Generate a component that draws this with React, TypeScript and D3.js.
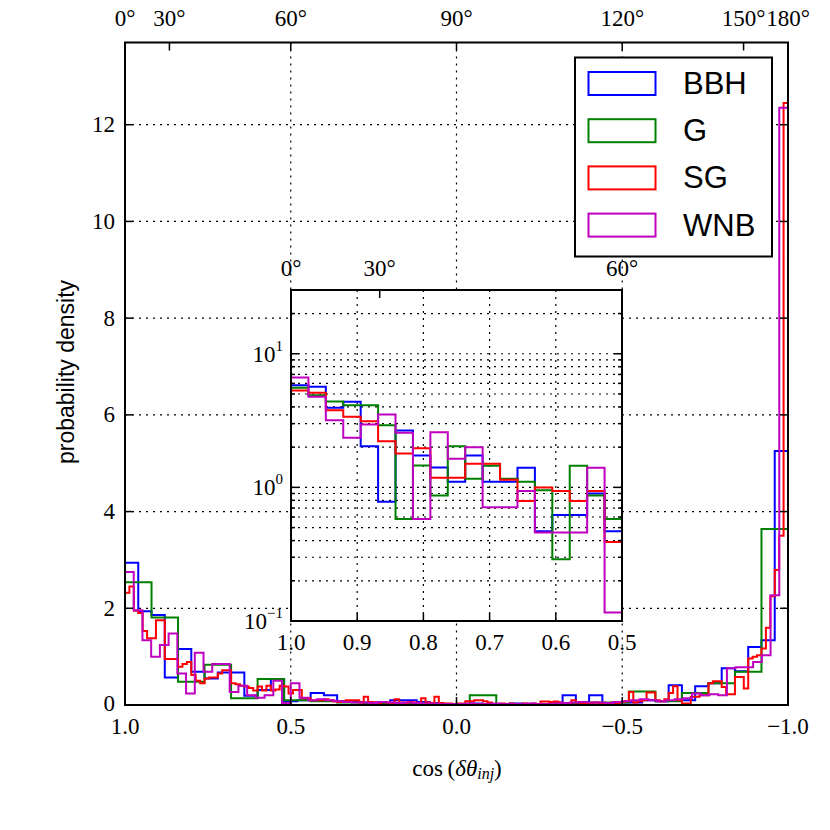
import React from "react";
import * as d3 from "d3";

// ---------- data ----------
const SERIES_NAMES = ["BBH", "G", "SG", "WNB"];
const SERIES_COLORS = ["#0000ff", "#008000", "#ff0000", "#bf00bf"];

// main histograms: density per bin, bins ordered from cos=1 down to cos=-1
const BBH_MAIN = [2.94, 1.94, 1.86, 0.57, 1.16, 0.69, 0.55, 0.67, 0.67, 0.19, 0.31, 0.53, 0.08, 0.1, 0.25, 0.2, 0.08, 0.06, 0.05, 0.04, 0.1, 0.1, 0.06, 0.04, 0.02, 0.02, 0.03, 0.02, 0.02, 0.03, 0.02, 0.02, 0.05, 0.2, 0.03, 0.2, 0.03, 0.05, 0.05, 0.1, 0.08, 0.41, 0.1, 0.39, 0.45, 0.76, 0.7, 1.2, 1.34, 5.25];
const G_MAIN = [2.54, 1.81, 0.48, 0.83, 0.14, 0.54, 0.1, 0.08, 0.05, 0.03, 0.04, 0.03, 0.02, 0.2, 0.02, 0.02, 0.03, 0.05, 0.05, 0.28, 0.08, 0.25, 0.45, 0.69, 3.64];
const SG_MAIN = [
  2.32, 2.45, 1.95, 1.9, 1.53, 1.38, 1.38, 1.75, 1.75, 0.95, 0.95, 0.95, 0.79, 0.85, 0.89, 0.62, 0.5, 0.45, 0.55, 0.57, 0.57, 0.65, 0.72, 0.72, 0.45, 0.43, 0.4, 0.38, 0.35, 0.3, 0.38, 0.3, 0.4, 0.3, 0.32, 0.4, 0.38, 0.24,
  0.31, 0.31, 0.14, 0.14, 0.1, 0.1, 0.1, 0.12, 0.1, 0.08, 0.06, 0.08, 0.1, 0.1, 0.1, 0.05, 0.17, 0.06, 0.05, 0.04, 0.06, 0.05, 0.04, 0.12, 0.05, 0.04, 0.06, 0.05, 0.04, 0.14, 0.05, 0.04, 0.17, 0.04, 0.03, 0.03, 0.02, 0.03,
  0.03, 0.08, 0.08, 0.1, 0.1, 0.08, 0.05, 0.02, 0.02, 0.03, 0.02, 0.03, 0.02, 0.02, 0.03, 0.02, 0.03, 0.02, 0.07, 0.07, 0.06, 0.07, 0.05, 0.04, 0.03, 0.1, 0.05, 0.04, 0.03, 0.03, 0.05, 0.03, 0.04, 0.02, 0.05, 0.03, 0.06, 0.08,
  0.27, 0.05, 0.08, 0.1, 0.26, 0.26, 0.1, 0.08, 0.12, 0.25, 0.39, 0.1, 0.03, 0.03, 0.17, 0.17, 0.2, 0.2, 0.45, 0.49, 0.49, 0.37, 0.22, 0.22, 0.58, 0.58, 0.34, 0.96, 1.0, 1.03, 1.17, 1.6, 2.25, 2.79, 3.5, 12.45,
];
const WNB_MAIN = [
  2.75, 1.96, 1.34, 1.0, 1.24, 1.48, 0.65, 0.24, 1.08, 0.69, 0.85, 0.85, 0.27, 0.4, 0.2, 0.15, 0.2, 0.5, 0.04, 0.45, 0.15,
  0.1, 0.12, 0.1, 0.08, 0.06, 0.05, 0.05, 0.04, 0.06, 0.05, 0.04, 0.05, 0.04, 0.03, 0.03, 0.02, 0.02, 0.02, 0.03, 0.02, 0.02, 0.03, 0.02, 0.02, 0.02, 0.03, 0.02, 0.02, 0.03, 0.04, 0.05, 0.06, 0.05, 0.05, 0.04, 0.06,
  0.08, 0.1, 0.12, 0.1, 0.08, 0.1, 0.12, 0.14, 0.24, 0.2, 0.22, 0.2, 0.76, 0.78, 0.78, 0.89, 1.03, 2.27, 12.35,
];

// inset histograms: 19 bins from cos=1.0 to cos=0.5
const BBH_INSET = [5.82, 5.66, 3.94, 4.37, 2.03, 0.78, 2.66, 1.73, 1.41, 1.1, 1.73, 1.1, 1.1, 1.4, 0.47, 0.62, 0.62, 0.9, 0.47];
const G_INSET = [5.57, 4.9, 4.4, 4.12, 4.12, 2.92, 0.58, 1.46, 0.87, 2.03, 1.16, 1.45, 1.16, 1.1, 0.95, 0.29, 1.45, 0.87, 0.58];
const SG_INSET = [5.31, 5.1, 3.78, 3.37, 3.13, 2.21, 1.79, 1.96, 1.18, 1.18, 1.5, 1.5, 1.14, 0.79, 1.0, 0.94, 0.79, 0.94, 0.39];
const WNB_INSET = [6.63, 4.77, 3.18, 2.35, 2.95, 3.51, 2.56, 0.58, 2.59, 1.64, 2.0, 0.71, 0.71, 0.94, 0.46, 0.46, 0.46, 1.4, 0.116];

const MAIN_RANGE = [1, -1];
const INSET_RANGE = [1, 0.5];
const MAIN_Y_MAX = 13.7;
const INSET_Y_DOMAIN = [0.1, 30];

const MAIN_X_TICKS = [1, 0.5, 0, -0.5, -1];
const MAIN_Y_TICKS = [0, 2, 4, 6, 8, 10, 12];
const MAIN_ANGLE_TICKS = [0, 30, 60, 90, 120, 150, 180];
const INSET_X_TICKS = [1, 0.9, 0.8, 0.7, 0.6, 0.5];
const INSET_ANGLE_TICKS = [0, 30, 60];
const INSET_MAJOR_Y = [0.1, 1, 10];
const INSET_EXP = ["\u22121", "0", "1"];

// ---------- layout ----------
const M = { left: 125, right: 788, top: 42.5, bottom: 705 };
const I = { left: 291, right: 622, top: 290, bottom: 621 };
const SERIF = "'Liberation Serif', 'DejaVu Serif', serif";
const SANS = "'Liberation Sans', Arial, sans-serif";
const fmtNum = (v: number) => (v < 0 ? "\u2212" : "") + Math.abs(v).toFixed(1);

function stepPath(values: number[], range: number[], x: (v: number) => number, y: (v: number) => number, base: number) {
  const n = values.length;
  const edges = d3.range(n + 1).map((i) => range[0] + ((range[1] - range[0]) * i) / n);
  const pts: [number, number][] = [[x(edges[0]), base]];
  values.forEach((v, i) => {
    pts.push([x(edges[i]), y(v)]);
    pts.push([x(edges[i + 1]), y(v)]);
  });
  pts.push([x(edges[n]), base]);
  return d3.line()(pts) as string;
}

export default function App() {
  const xM = d3.scaleLinear().domain(MAIN_RANGE).range([M.left, M.right]);
  const yM = d3.scaleLinear().domain([0, MAIN_Y_MAX]).range([M.bottom, M.top]);
  const xI = d3.scaleLinear().domain(INSET_RANGE).range([I.left, I.right]);
  const yI = d3.scaleLog().domain(INSET_Y_DOMAIN).range([I.bottom, I.top]);

  const mainSeries = [BBH_MAIN, G_MAIN, SG_MAIN, WNB_MAIN];
  const insetSeries = [BBH_INSET, G_INSET, SG_INSET, WNB_INSET];

  const insetMinor: number[] = [];
  [0.1, 1, 10].forEach((dec) => {
    for (let k = 1; k <= 9; k++) {
      const v = dec * k;
      if (v >= INSET_Y_DOMAIN[0] - 1e-9 && v <= INSET_Y_DOMAIN[1] + 1e-9) insetMinor.push(v);
    }
  });

  const dash = "2,5";
  const cosDeg = (d: number) => Math.cos((d * Math.PI) / 180);

  return (
    <svg width={830} height={830} style={{ position: "absolute", left: 0, top: 0, background: "#fff" }}>
      <defs>
        <clipPath id="mainClip">
          <rect x={M.left} y={M.top} width={M.right - M.left} height={M.bottom - M.top} />
        </clipPath>
        <clipPath id="insetClip">
          <rect x={I.left} y={I.top} width={I.right - I.left} height={I.bottom - I.top} />
        </clipPath>
      </defs>
      <rect x={0} y={0} width={830} height={830} fill="#fff" />

      {/* main grid */}
      {MAIN_Y_TICKS.slice(1).map((t) => (
        <line key={"gy" + t} x1={M.left} x2={M.right} y1={yM(t)} y2={yM(t)} stroke="#000" strokeWidth={1.2} strokeDasharray={dash} />
      ))}
      {MAIN_X_TICKS.slice(1, -1).map((t) => (
        <line key={"gx" + t} x1={xM(t)} x2={xM(t)} y1={M.top} y2={M.bottom} stroke="#000" strokeWidth={1.2} strokeDasharray={dash} />
      ))}

      {/* main histograms */}
      <g clipPath="url(#mainClip)">
        {mainSeries.map((vals, k) => (
          <path key={"m" + k} d={stepPath(vals, MAIN_RANGE, xM, yM, yM(0))} fill="none" stroke={SERIES_COLORS[k]} strokeWidth={2} strokeLinejoin="miter" />
        ))}
      </g>

      {/* main ticks */}
      {MAIN_Y_TICKS.map((t) => (
        <g key={"ty" + t}>
          <line x1={M.left} x2={M.left + 8} y1={yM(t)} y2={yM(t)} stroke="#000" strokeWidth={1.5} />
          <line x1={M.right} x2={M.right - 8} y1={yM(t)} y2={yM(t)} stroke="#000" strokeWidth={1.5} />
          <text x={M.left - 10} y={yM(t) - (t === 0 ? 2 : 0)} textAnchor="end" dominantBaseline="central" fontFamily={SERIF} fontSize={23}>{t}</text>
        </g>
      ))}
      {MAIN_X_TICKS.map((t) => (
        <g key={"tx" + t}>
          <line x1={xM(t)} x2={xM(t)} y1={M.bottom} y2={M.bottom - 8} stroke="#000" strokeWidth={1.5} />
          <text x={xM(t)} y={M.bottom + 21} textAnchor="middle" dominantBaseline="central" fontFamily={SERIF} fontSize={23}>{fmtNum(t)}</text>
        </g>
      ))}
      {MAIN_ANGLE_TICKS.map((d) => (
        <g key={"ta" + d}>
          <line x1={xM(cosDeg(d))} x2={xM(cosDeg(d))} y1={M.top} y2={M.top + 8} stroke="#000" strokeWidth={1.5} />
          <text x={xM(cosDeg(d))} y={M.top - 24} textAnchor="middle" dominantBaseline="central" fontFamily={SERIF} fontSize={23}>{d + "\u00b0"}</text>
        </g>
      ))}
      <rect x={M.left} y={M.top} width={M.right - M.left} height={M.bottom - M.top} fill="none" stroke="#000" strokeWidth={2} />

      {/* inset */}
      <rect x={I.left} y={I.top} width={I.right - I.left} height={I.bottom - I.top} fill="#fff" />
      {insetMinor.map((v) => (
        <line key={"ig" + v} x1={I.left} x2={I.right} y1={yI(v)} y2={yI(v)} stroke="#000" strokeWidth={1.2} strokeDasharray={dash} />
      ))}
      {INSET_X_TICKS.slice(1, -1).map((t) => (
        <line key={"igx" + t} x1={xI(t)} x2={xI(t)} y1={I.top} y2={I.bottom} stroke="#000" strokeWidth={1.2} strokeDasharray={dash} />
      ))}
      <g clipPath="url(#insetClip)">
        {insetSeries.map((vals, k) => (
          <path key={"i" + k} d={stepPath(vals, INSET_RANGE, xI, yI, I.bottom + 5)} fill="none" stroke={SERIES_COLORS[k]} strokeWidth={2} />
        ))}
      </g>
      {insetMinor.map((v) => {
        const major = INSET_MAJOR_Y.some((m) => Math.abs(m - v) < 1e-9);
        const len = major ? 8 : 4;
        return (
          <g key={"it" + v}>
            <line x1={I.left} x2={I.left + len} y1={yI(v)} y2={yI(v)} stroke="#000" strokeWidth={1.5} />
            <line x1={I.right} x2={I.right - len} y1={yI(v)} y2={yI(v)} stroke="#000" strokeWidth={1.5} />
          </g>
        );
      })}
      {INSET_MAJOR_Y.map((v, k) => (
        <text key={"il" + v} x={I.left - 8} y={yI(v) + 8} textAnchor="end" fontFamily={SERIF} fontSize={23}>
          10<tspan fontSize={15} dy={-11}>{INSET_EXP[k]}</tspan>
        </text>
      ))}
      {INSET_X_TICKS.map((t) => (
        <g key={"ix" + t}>
          <line x1={xI(t)} x2={xI(t)} y1={I.bottom} y2={I.bottom - 8} stroke="#000" strokeWidth={1.5} />
          <text x={xI(t)} y={I.bottom + 21} textAnchor="middle" dominantBaseline="central" fontFamily={SERIF} fontSize={23}>{fmtNum(t)}</text>
        </g>
      ))}
      {INSET_ANGLE_TICKS.map((d) => (
        <g key={"ia" + d}>
          <line x1={xI(cosDeg(d))} x2={xI(cosDeg(d))} y1={I.top} y2={I.top + 8} stroke="#000" strokeWidth={1.5} />
          <text x={xI(cosDeg(d))} y={I.top - 22} textAnchor="middle" dominantBaseline="central" fontFamily={SERIF} fontSize={23}>{d + "\u00b0"}</text>
        </g>
      ))}
      <rect x={I.left} y={I.top} width={I.right - I.left} height={I.bottom - I.top} fill="none" stroke="#000" strokeWidth={2} />

      {/* legend */}
      <rect x={575} y={57.5} width={197} height={199} fill="#fff" stroke="#000" strokeWidth={2} />
      {SERIES_NAMES.map((name, k) => (
        <g key={"lg" + name}>
          <rect x={588.5} y={72 + k * 47.2} width={67} height={23} fill="none" stroke={SERIES_COLORS[k]} strokeWidth={2} />
          <text x={683} y={83.5 + k * 47.2} dominantBaseline="central" fontFamily={SANS} fontSize={31}>{name}</text>
        </g>
      ))}

      {/* axis labels */}
      <text x={457} y={768} textAnchor="middle" dominantBaseline="central" fontFamily={SERIF} fontSize={23}>
        cos{"\u2009"}(<tspan fontStyle="italic">{"\u03b4\u03b8"}</tspan><tspan fontStyle="italic" fontSize={16} dy={5}>inj</tspan><tspan dy={-5}>)</tspan>
      </text>
      <text transform="translate(66,372) rotate(-90)" textAnchor="middle" dominantBaseline="central" fontFamily={SANS} fontSize={23}>probability density</text>
    </svg>
  );
}
